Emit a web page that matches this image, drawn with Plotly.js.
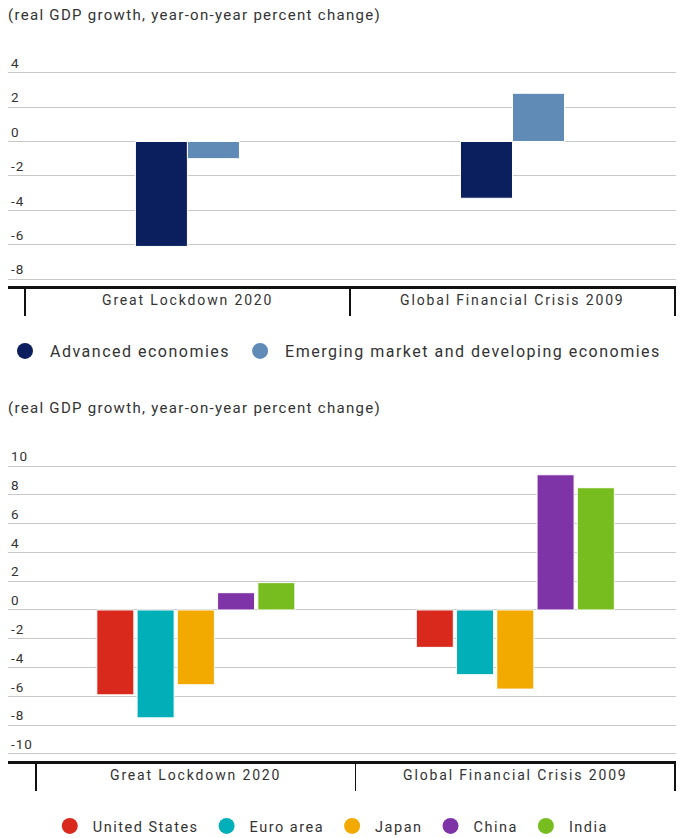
<!DOCTYPE html>
<html>
<head>
<meta charset="utf-8">
<script src="https://cdn.plot.ly/plotly-3.0.1.min.js"></script>
<style>
html,body{margin:0;padding:0;background:#fff;}
#c1{position:absolute;left:0;top:0;width:681px;height:385px;}
#c2{position:absolute;left:0;top:385px;width:681px;height:453px;}
.gtitle{letter-spacing:1.3px;}
.legendtext{letter-spacing:1.5px;}
.annotation-text{letter-spacing:1.85px;}
.ytick text{letter-spacing:1px;}
</style>
</head>
<body>
<div id="c1"></div>
<div id="c2"></div>
<script>
// ---- Data ----
const yTitle = "(real GDP growth, year-on-year percent change)";
const categories = ["Great Lockdown 2020", "Global Financial Crisis 2009"];

const groupNames = ["Advanced economies", "Emerging market and developing economies"];
const advanced = [-6.1, -3.3];
const emerging = [-1.0, 2.8];

const countryNames = ["United States", "Euro area", "Japan", "China", "India"];
const unitedStates = [-5.9, -2.6];
const euroArea = [-7.5, -4.5];
const japan = [-5.2, -5.5];
const china = [1.2, 9.4];
const india = [1.9, 8.5];

const ticks1 = [-8, -6, -4, -2, 0, 2, 4];
const ticks2 = [-10, -8, -6, -4, -2, 0, 2, 4, 6, 8, 10];

// ---- Styles ----
const FONT = "Roboto, 'Open Sans', sans-serif";
const TXT = "#333333";
const colors1 = ["#0b1f5e", "#5f8bb6"];
const colors2 = ["#d9291c", "#00afb8", "#f2a900", "#7e33a6", "#78bd20"];

function barTraces(names, series, colors) {
  const t = [];
  series.forEach((vals, i) => {
    t.push({
      type: "bar", x: categories, y: vals, name: names[i], showlegend: false,
      marker: {color: colors[i], line: {color: "#ffffff", width: 1}},
      hoverinfo: "y"
    });
  });
  // legend entries drawn as circles
  series.forEach((vals, i) => {
    t.push({
      type: "scatter", mode: "markers", x: [null], y: [null], name: names[i],
      marker: {color: colors[i], size: 16, symbol: "circle"},
      showlegend: true, hoverinfo: "skip"
    });
  });
  return t;
}

function catAnnotations() {
  return categories.map((c) => ({
    x: c, xref: "x", y: 0, yref: "paper", yanchor: "top", yshift: -4,
    text: c, showarrow: false, font: {family: FONT, size: 14, color: TXT}
  }));
}

function layoutFor(opts) {
  return {
    width: 681, height: opts.height,
    margin: {l: 8, r: 5, t: opts.t, b: opts.b, pad: 0},
    paper_bgcolor: "#ffffff", plot_bgcolor: "#ffffff",
    font: {family: FONT, color: TXT, size: 13},
    title: {
      text: yTitle, xref: "container", x: 8 / 681, xanchor: "left",
      yref: "container", y: 1 - opts.titleY / opts.height, yanchor: "middle",
      font: {family: FONT, size: 15, color: TXT}
    },
    barmode: "group", bargap: opts.bargap, bargroupgap: opts.bargroupgap,
    showlegend: true,
    legend: {
      orientation: "h", xref: "container", yref: "container",
      x: opts.legX, xanchor: opts.legXA, y: opts.legY, yanchor: "middle",
      itemwidth: opts.itemW,
      font: {family: FONT, size: opts.legSize, color: TXT}, bgcolor: "rgba(0,0,0,0)"
    },
    xaxis: {
      type: "category", range: opts.xrange, showticklabels: false,
      tickson: "boundaries", ticks: "outside", ticklen: 27, tickwidth: 1.5, tickcolor: "#111111",
      showline: true, linecolor: "#111111", linewidth: 2.5, showgrid: false, zeroline: false,
      fixedrange: true
    },
    yaxis: {
      range: opts.yrange, tickvals: opts.ticks, ticktext: opts.ticks.map(String),
      ticklabelposition: "inside top", ticks: "", showgrid: true, gridcolor: "#c8c8c8", gridwidth: 1,
      zeroline: false, showline: false, tickfont: {family: FONT, size: 13.5, color: TXT},
      fixedrange: true
    },
    annotations: catAnnotations()
  };
}

Plotly.newPlot("c1",
  barTraces(groupNames, [advanced, emerging], colors1),
  layoutFor({height: 385, t: 52, b: 99, titleY: 15, bargap: 0.68, bargroupgap: 0,
    xrange: [-0.552, 1.503], yrange: [-8.4, 5.2], ticks: ticks1,
    legX: 0, legXA: "left", legY: 1 - 351 / 385, legSize: 16, itemW: 40}),
  {displayModeBar: false, staticPlot: true});

Plotly.newPlot("c2",
  barTraces(countryNames, [unitedStates, euroArea, japan, china, india], colors2),
  layoutFor({height: 453, t: 61, b: 77, titleY: 23, bargap: 0.37, bargroupgap: 0.08,
    xrange: [-0.588, 1.503], yrange: [-10.5, 11.4], ticks: ticks2,
    legX: 0.485, legXA: "center", legY: 1 - 441 / 453, legSize: 14.5, itemW: 36}),
  {displayModeBar: false, staticPlot: true});
</script>
</body>
</html>
